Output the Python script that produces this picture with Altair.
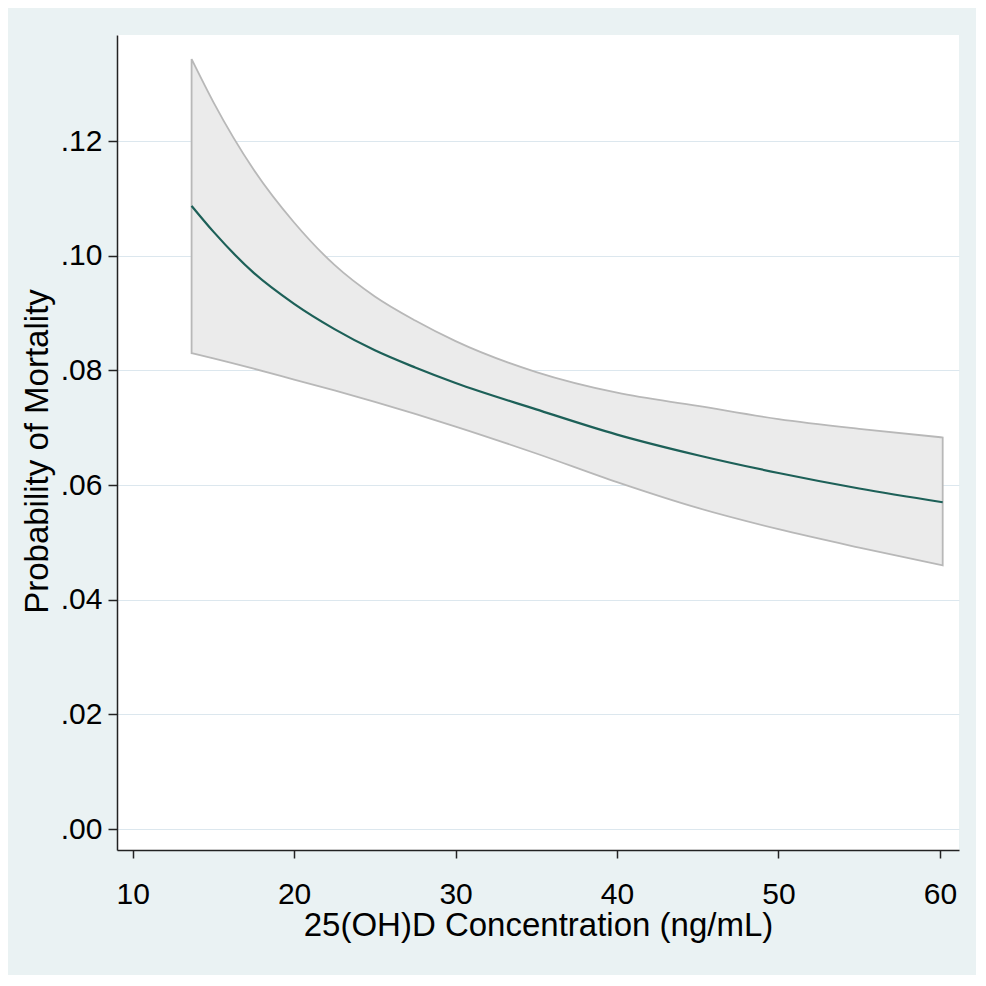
import altair as alt
import pandas as pd

# 25(OH)D concentration (ng/mL)
conc = [13.65, 15, 17.5, 20, 22.5, 25, 27.5, 30, 35, 40, 45, 50, 55, 60.17]
# predicted probability of mortality
prob = [0.1087, 0.1042, 0.0970, 0.0916, 0.0872, 0.0835, 0.0805, 0.0778, 0.0732, 0.0688, 0.0652, 0.0621, 0.0594, 0.0570]
# 95% CI bounds
lower = [0.0830, 0.0821, 0.0803, 0.0784, 0.0765, 0.0745, 0.0724, 0.0702, 0.0655, 0.0605, 0.0560, 0.0523, 0.0491, 0.0460]
upper = [0.1343, 0.1268, 0.1150, 0.1058, 0.0984, 0.0929, 0.0887, 0.0851, 0.0797, 0.0761, 0.0738, 0.0715, 0.0698, 0.0683]

x_ticks = [10, 20, 30, 40, 50, 60]
y_ticks = [0.0, 0.02, 0.04, 0.06, 0.08, 0.10, 0.12]

df = pd.DataFrame({"conc": conc, "prob": prob, "lower": lower, "upper": upper})

FONT = "Liberation Sans"

xscale = alt.Scale(domain=[9.03, 61.18], nice=False, zero=False)
yscale = alt.Scale(domain=[-0.00366, 0.1385], nice=False, zero=False)

xaxis = alt.Axis(
    values=x_ticks, grid=False, title="25(OH)D Concentration (ng/mL)",
    labelFontSize=30, titleFontSize=33, labelFont=FONT, titleFont=FONT,
    labelColor="black", titleColor="black", titleFontWeight="normal",
    domainColor="#222222", domainWidth=1.5, tickColor="#222222", tickWidth=1.5,
    tickSize=8, labelPadding=45, labelBaseline="alphabetic",
    labelFlush=False, labelOverlap=False,
    titleY=85, titleBaseline="alphabetic", titleX=421, titleAlign="center",
)
yaxis = alt.Axis(
    values=y_ticks, grid=True, gridColor="#DCE7EE", gridWidth=1,
    title="Probability of Mortality",
    labelExpr="substring(format(datum.value, '.2f'), 1)",
    labelFontSize=30, titleFontSize=33, labelFont=FONT, titleFont=FONT,
    labelColor="black", titleColor="black", titleFontWeight="normal",
    domainColor="#222222", domainWidth=1.5, tickColor="#222222", tickWidth=1.5,
    tickSize=9, labelPadding=6, labelBaseline="middle",
    titleX=-70, titleY=416, titleAngle=-90, titleAlign="center",
    titleBaseline="alphabetic", labelFlush=False, labelOverlap=False,
)

band = alt.Chart(df).mark_area(
    fill="#EBEBEB", stroke="#B8B8B8", strokeWidth=1.8, interpolate="monotone"
).encode(
    x=alt.X("conc:Q", scale=xscale, axis=xaxis),
    y=alt.Y("upper:Q", scale=yscale, axis=yaxis),
    y2="lower:Q",
)

line = alt.Chart(df).mark_line(
    color="#1D6058", strokeWidth=2.2, interpolate="monotone"
).encode(
    x=alt.X("conc:Q", scale=xscale),
    y=alt.Y("prob:Q", scale=yscale),
)

chart = alt.layer(band, line).properties(
    width=842, height=815,
    background="#EAF2F3",
    autosize=alt.AutoSizeParams(type="none"),
    padding={"left": 109, "top": 27, "right": 17, "bottom": 125},
).configure_view(fill="white", strokeWidth=0)

chart.save("out.html", embed_options={"renderer": "svg", "actions": False})
